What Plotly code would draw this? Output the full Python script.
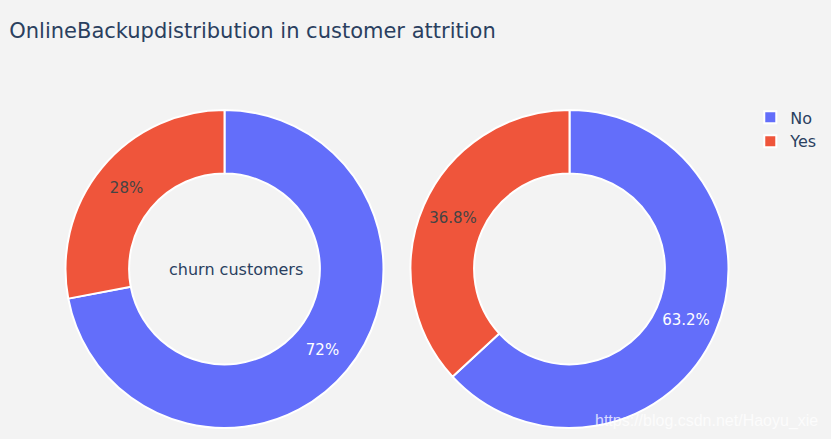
import plotly.graph_objects as go

labels = ["No", "Yes"]
churn_values = [1346, 523]
nonchurn_values = [3268, 1906]
colors = ["#636efa", "#EF553B"]
title_text = "OnlineBackupdistribution in customer attrition"
center_label = "churn customers"
watermark = "https://blog.csdn.net/Haoyu_xie"

fig = go.Figure()
fig.add_trace(go.Pie(labels=labels, values=churn_values, hole=0.6, sort=False,
                     marker=dict(colors=colors, line=dict(color="white", width=2)),
                     domain=dict(x=[0, 0.5], y=[0, 1]), name="churn customers"))
fig.add_trace(go.Pie(labels=labels, values=nonchurn_values, hole=0.6, sort=False,
                     marker=dict(colors=colors, line=dict(color="white", width=2)),
                     domain=dict(x=[0.5, 1], y=[0, 1]), name="non-churn customers"))

fig.update_layout(
    width=831, height=439,
    font=dict(family="DejaVu Sans", color="#2a3f5f", size=15),
    title=dict(text=title_text, x=0.0015, xref="container", xanchor="left",
               y=0.948, yanchor="middle", font=dict(size=21)),
    paper_bgcolor="rgb(243,243,243)", plot_bgcolor="rgb(243,243,243)",
    margin=dict(l=44, r=97, t=102, b=19),
    legend=dict(font=dict(size=16), x=1.012, y=1.03),
    annotations=[
        dict(text=center_label, x=0.266, y=0.497, xref="paper", yref="paper",
             xanchor="center", yanchor="middle", showarrow=False, font=dict(size=16)),
        dict(text=watermark, x=1.113, y=-0.012, xref="paper", yref="paper",
             xanchor="right", yanchor="bottom", showarrow=False,
             font=dict(family="Liberation Sans", size=16, color="rgba(255,255,255,0.75)")),
    ],
)

fig.write_html("out.html",
               post_script="document.body.style.background='rgb(243,243,243)';")
